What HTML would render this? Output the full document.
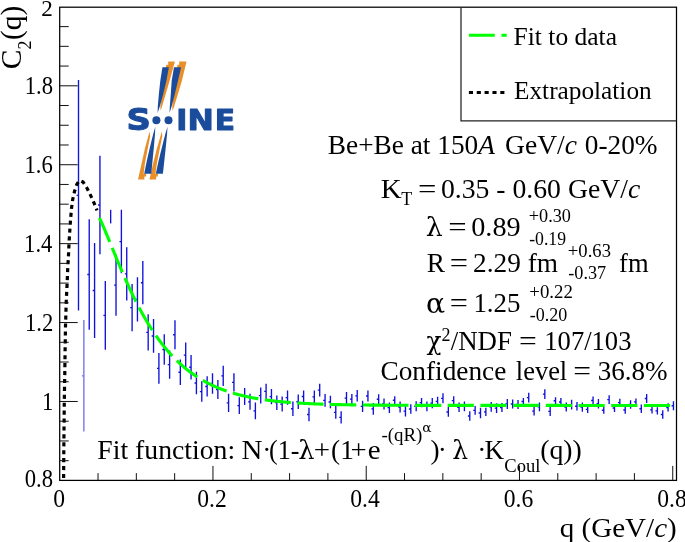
<!DOCTYPE html>
<html lang="en"><head><meta charset="utf-8"><title>C2(q) fit - NA61/SHINE Be+Be at 150A GeV/c</title>
<style>html,body{margin:0;padding:0;background:#fff;}body{width:685px;height:542px;overflow:hidden;}svg{display:block;}text{font-family:"Liberation Serif","DejaVu Serif",serif;fill:#000;}.g{font-family:"DejaVu Serif","Liberation Serif",serif}.t{font-size:27.3px}.s{font-size:18px}.a{font-size:23.6px}.i{font-style:italic}.logo{font-family:"DejaVu Sans","Liberation Sans",sans-serif;font-weight:bold;font-size:28.8px;fill:#1b4c9c}</style></head><body>
<svg width="685" height="542" viewBox="0 0 685 542">
<rect width="685" height="542" fill="#fff"/>
<g stroke="#1111dd" stroke-width="1.35" fill="none">
<path d="M78.50 80.00 V310.60 M78.50 195.30 h-1.9"/>
<path d="M83.86 320.00 V431.60 M83.86 375.80 h-1.9" stroke-opacity="0.6"/>
<path d="M89.22 219.20 V329.80 M89.22 274.50 h-1.9"/>
<path d="M94.58 242.90 V338.00 M94.58 290.45 h-1.9"/>
<path d="M99.94 155.70 V254.30 M99.94 205.00 h-1.9"/>
<path d="M105.30 281.00 V349.70 M105.30 315.35 h-1.9"/>
<path d="M110.66 209.80 V223.40"/>
<path d="M116.02 254.60 V315.70 M116.02 285.15 h-1.9"/>
<path d="M121.38 209.80 V273.30 M121.38 241.55 h-1.9"/>
<path d="M126.74 247.30 V300.40 M126.74 273.85 h-1.9"/>
<path d="M132.10 283.90 V331.30 M132.10 307.60 h-1.9"/>
<path d="M137.46 277.20 V321.50 M137.46 299.35 h-1.9"/>
<path d="M142.82 261.10 V304.30 M142.82 282.70 h-1.9"/>
<path d="M148.18 314.30 V350.50 M148.18 332.40 h-1.9"/>
<path d="M153.54 319.10 V352.80 M153.54 335.95 h-1.9"/>
<path d="M158.90 352.90 V383.70 M158.90 368.30 h-1.9"/>
<path d="M164.26 334.30 V364.70 M164.26 349.50 h-1.9"/>
<path d="M169.62 350.40 V378.70 M169.62 364.55 h-1.9"/>
<path d="M174.98 320.20 V349.20 M174.98 334.70 h-1.9"/>
<path d="M180.34 359.50 V385.00 M180.34 372.25 h-1.9"/>
<path d="M185.70 342.50 V367.60 M185.70 355.05 h-1.9"/>
<path d="M191.06 355.00 V379.40 M191.06 367.20 h-1.9"/>
<path d="M196.42 371.70 V394.20 M196.42 382.95 h-1.9"/>
<path d="M201.78 381.30 V401.80 M201.78 391.55 h-1.9"/>
<path d="M207.14 376.30 V396.60 M207.14 386.45 h-1.9"/>
<path d="M212.50 373.20 V393.80 M212.50 383.50 h-1.9"/>
<path d="M217.86 380.00 V399.00 M217.86 389.50 h-1.9"/>
<path d="M223.22 365.80 V385.90 M223.22 375.85 h-1.9"/>
<path d="M228.58 393.80 V411.90 M228.58 402.85 h-1.9"/>
<path d="M233.94 373.20 V391.60 M233.94 382.40 h-1.9"/>
<path d="M239.30 397.20 V414.10 M239.30 405.65 h-1.9"/>
<path d="M244.66 387.90 V404.90 M244.66 396.40 h-1.9"/>
<path d="M250.02 393.80 V409.80 M250.02 401.80 h-1.9"/>
<path d="M255.38 402.60 V419.20 M255.38 410.90 h-1.9"/>
<path d="M260.74 387.50 V403.60 M260.74 395.55 h-1.9"/>
<path d="M266.10 383.70 V398.90 M266.10 391.30 h-1.9"/>
<path d="M271.46 388.90 V404.20 M271.46 396.55 h-1.9"/>
<path d="M276.82 395.40 V409.90 M276.82 402.65 h-1.9"/>
<path d="M282.18 396.60 V411.50 M282.18 404.05 h-1.9"/>
<path d="M287.54 390.50 V404.70 M287.54 397.60 h-1.9"/>
<path d="M292.90 401.50 V415.90 M292.90 408.70 h-1.9"/>
<path d="M298.26 394.50 V408.90 M298.26 401.70 h-1.9"/>
<path d="M303.62 390.50 V402.40 M303.62 396.45 h-1.9"/>
<path d="M308.98 407.70 V421.30 M308.98 414.50 h-1.9"/>
<path d="M314.34 390.50 V403.30 M314.34 396.90 h-1.9"/>
<path d="M319.70 383.70 V396.60 M319.70 390.15 h-1.9"/>
<path d="M325.06 394.00 V406.80 M325.06 400.40 h-1.9"/>
<path d="M330.42 395.80 V408.20 M330.42 402.00 h-1.9"/>
<path d="M335.78 405.90 V418.70 M335.78 412.30 h-1.9"/>
<path d="M341.14 411.20 V423.40 M341.14 417.30 h-1.9"/>
<path d="M346.50 391.90 V404.20 M346.50 398.05 h-1.9"/>
<path d="M351.86 394.00 V404.20 M351.86 399.10 h-1.9"/>
<path d="M357.22 390.10 V401.50 M357.22 395.80 h-1.9"/>
<path d="M362.58 400.70 V412.00 M362.58 406.35 h-1.9"/>
<path d="M367.94 390.40 V401.50 M367.94 395.95 h-1.9"/>
<path d="M373.30 403.00 V414.70 M373.30 408.85 h-1.9"/>
<path d="M378.66 394.20 V404.20 M378.66 399.20 h-1.9"/>
<path d="M384.02 398.40 V409.40 M384.02 403.90 h-1.9"/>
<path d="M389.38 402.40 V412.90 M389.38 407.65 h-1.9"/>
<path d="M394.74 396.30 V404.20 M394.74 400.25 h-1.9"/>
<path d="M400.10 401.50 V412.40 M400.10 406.95 h-1.9"/>
<path d="M405.46 405.90 V416.40 M405.46 411.15 h-1.9"/>
<path d="M410.82 404.20 V413.80 M410.82 409.00 h-1.9"/>
<path d="M416.18 401.20 V411.20 M416.18 406.20 h-1.9"/>
<path d="M421.54 398.00 V407.30 M421.54 402.65 h-1.9"/>
<path d="M426.90 401.50 V411.20 M426.90 406.35 h-1.9"/>
<path d="M432.26 398.00 V408.20 M432.26 403.10 h-1.9"/>
<path d="M437.62 396.80 V405.90 M437.62 401.35 h-1.9"/>
<path d="M442.98 393.30 V403.30 M442.98 398.30 h-1.9"/>
<path d="M448.34 407.10 V416.80 M448.34 411.95 h-1.9"/>
<path d="M453.70 396.30 V405.00 M453.70 400.65 h-1.9"/>
<path d="M459.06 402.40 V412.00 M459.06 407.20 h-1.9"/>
<path d="M464.42 401.50 V411.20 M464.42 406.35 h-1.9"/>
<path d="M469.78 411.20 V420.80 M469.78 416.00 h-1.9"/>
<path d="M475.14 405.90 V414.70 M475.14 410.30 h-1.9"/>
<path d="M480.50 407.70 V418.20 M480.50 412.95 h-1.9"/>
<path d="M485.86 407.70 V415.90 M485.86 411.80 h-1.9"/>
<path d="M491.22 402.10 V411.70 M491.22 406.90 h-1.9"/>
<path d="M496.58 403.30 V412.90 M496.58 408.10 h-1.9"/>
<path d="M501.94 402.90 V412.00 M501.94 407.45 h-1.9"/>
<path d="M507.30 398.90 V408.90 M507.30 403.90 h-1.9"/>
<path d="M512.66 399.40 V408.50 M512.66 403.95 h-1.9"/>
<path d="M518.02 400.10 V408.90 M518.02 404.50 h-1.9"/>
<path d="M523.38 398.00 V405.00 M523.38 401.50 h-1.9"/>
<path d="M528.74 392.80 V402.40 M528.74 397.60 h-1.9"/>
<path d="M534.10 406.80 V415.50 M534.10 411.15 h-1.9"/>
<path d="M539.46 402.40 V411.20 M539.46 406.80 h-1.9"/>
<path d="M544.82 389.30 V398.90 M544.82 394.10 h-1.9"/>
<path d="M550.18 406.80 V415.90 M550.18 411.35 h-1.9"/>
<path d="M555.54 397.20 V404.20 M555.54 400.70 h-1.9"/>
<path d="M560.90 398.00 V405.90 M560.90 401.95 h-1.9"/>
<path d="M566.26 402.40 V411.50 M566.26 406.95 h-1.9"/>
<path d="M571.62 399.80 V409.40 M571.62 404.60 h-1.9"/>
<path d="M576.98 401.90 V410.60 M576.98 406.25 h-1.9"/>
<path d="M582.34 402.40 V411.70 M582.34 407.05 h-1.9"/>
<path d="M587.70 405.90 V412.90 M587.70 409.40 h-1.9"/>
<path d="M593.06 396.40 V404.50 M593.06 400.45 h-1.9"/>
<path d="M598.42 399.00 V408.50 M598.42 403.75 h-1.9"/>
<path d="M603.78 406.80 V413.70 M603.78 410.25 h-1.9"/>
<path d="M609.14 395.20 V404.00 M609.14 399.60 h-1.9"/>
<path d="M614.50 404.00 V412.00 M614.50 408.00 h-1.9"/>
<path d="M619.86 398.80 V406.30 M619.86 402.55 h-1.9"/>
<path d="M625.22 406.30 V413.70 M625.22 410.00 h-1.9"/>
<path d="M630.58 400.20 V408.80 M630.58 404.50 h-1.9"/>
<path d="M635.94 398.40 V405.40 M635.94 401.90 h-1.9"/>
<path d="M641.30 404.40 V413.00 M641.30 408.70 h-1.9"/>
<path d="M646.66 393.90 V403.00 M646.66 398.45 h-1.9"/>
<path d="M652.02 406.30 V413.40 M652.02 409.85 h-1.9"/>
<path d="M657.38 407.20 V414.40 M657.38 410.80 h-1.9"/>
<path d="M662.74 410.20 V418.80 M662.74 414.50 h-1.9"/>
<path d="M668.10 403.30 V411.60 M668.10 407.45 h-1.9"/>
<path d="M673.46 401.20 V410.20 M673.46 405.70 h-1.9"/>
</g>
<path d="M63.60 480.40 L63.80 450.00 L64.10 420.00 L64.30 400.00 L64.80 372.00 L65.10 350.00 L65.50 326.00 L65.80 317.00 L66.20 302.00 L67.00 286.00 L67.70 269.50 L68.50 255.00 L69.20 240.00 L69.80 230.60 L70.50 220.20 L71.50 208.40 L72.70 199.50 L74.50 191.40 L76.90 184.20 L79.00 181.20 L80.30 180.70 L83.10 182.10 L87.20 188.50 L91.20 196.60 L94.10 203.20 L97.00 210.40" fill="none" stroke="#000" stroke-width="3.2" stroke-dasharray="4.1 3.82" stroke-dashoffset="5.57"/>
<path id="g1" d="M99.40 217.86 L99.90 218.93 L100.40 220.01 L100.90 221.10 L101.40 222.21 L101.90 223.32 L102.40 224.45 L102.90 225.59 L103.40 226.74 L103.90 227.90 L104.40 229.07 L104.90 230.24 L105.40 231.42 L105.90 232.61 L106.40 233.80 L106.90 235.00 L107.40 236.20 L107.90 237.41 L108.40 238.62 L108.90 239.83 L109.40 241.05 L109.90 242.26 L110.40 243.48 L110.90 244.70 L111.40 245.92 L111.90 247.14 L112.40 248.36 L112.90 249.58 L113.40 250.80 L113.90 252.02 L114.40 253.24 L114.90 254.45 L115.40 255.66 L115.90 256.87 L116.40 258.08 L116.90 259.29 L117.40 260.49 L117.90 261.69 L118.40 262.89 L118.90 264.08 L119.40 265.27 L119.90 266.45 L120.40 267.63 L120.90 268.80 L121.40 269.97 L121.90 271.14 L122.40 272.30 L122.90 273.46 L123.40 274.61 L123.90 275.75 L124.40 276.89 L124.90 278.03 L125.40 279.16 L125.90 280.28 L126.40 281.40 L126.90 282.51 L127.40 283.61 L127.90 284.71 L128.40 285.80 L128.90 286.89 L129.40 287.97 L129.90 289.04 L130.40 290.11 L130.90 291.17 L131.40 292.23 L131.90 293.27 L132.40 294.31 L132.90 295.35 L133.40 296.38 L133.90 297.40 L134.40 298.41 L134.90 299.42 L135.40 300.42 L135.90 301.41 L136.40 302.40 L136.90 303.38 L137.40 304.35 L137.90 305.32 L138.40 306.27 L138.90 307.23 L139.40 308.17 L139.90 309.11 L140.40 310.04 L140.90 310.96 L141.40 311.88 L141.90 312.79 L142.40 313.70 L142.90 314.59 L143.40 315.48 L143.90 316.36 L144.40 317.24 L144.90 318.11 L145.40 318.97 L145.90 319.83 L146.40 320.67 L146.90 321.52 L147.40 322.35 L147.90 323.18 L148.40 324.00 L148.90 324.81 L149.40 325.62 L149.90 326.42 L150.40 327.22 L150.90 328.01 L151.40 328.79 L151.90 329.56 L152.40 330.33 L152.90 331.09 L153.40 331.85 L153.90 332.60 L154.40 333.34 L154.90 334.07 L155.40 334.80 L155.90 335.53 L156.40 336.24 L156.90 336.96 L157.40 337.66 L157.90 338.36 L158.40 339.05 L158.90 339.74 L159.40 340.42 L159.90 341.09 L160.40 341.76 L160.90 342.42 L161.40 343.08 L161.90 343.73 L162.40 344.37 L162.90 345.01 L163.40 345.64 L163.90 346.27 L164.40 346.89 L164.90 347.50 L165.40 348.11 L165.90 348.72 L166.40 349.32 L166.90 349.91 L167.40 350.50 L167.90 351.08 L168.40 351.66 L168.90 352.23 L169.40 352.79 L169.90 353.35 L170.40 353.91 L170.90 354.46 L171.40 355.00 L171.90 355.54 L172.40 356.08 L172.90 356.61 L173.40 357.13 L173.90 357.65 L174.40 358.16 L174.90 358.67 L175.40 359.18 L175.90 359.68 L176.40 360.17 L176.90 360.66 L177.40 361.15 L177.90 361.63 L178.40 362.10 L178.90 362.58 L179.40 363.04 L179.90 363.50 L180.40 363.96 L180.90 364.41 L181.40 364.86 L181.90 365.31 L182.40 365.75 L182.90 366.18 L183.40 366.61 L183.90 367.04 L184.40 367.46 L184.90 367.88 L185.40 368.29 L185.90 368.70 L186.40 369.11 L186.90 369.51 L187.40 369.91 L187.90 370.30 L188.40 370.69 L188.90 371.08 L189.40 371.46 L189.90 371.84 L190.40 372.21 L190.90 372.58 L191.40 372.95 L191.90 373.31 L192.40 373.67 L192.90 374.03 L193.40 374.38 L193.90 374.73 L194.40 375.07 L194.90 375.41 L195.40 375.75 L195.90 376.09 L196.40 376.42 L196.90 376.74 L197.40 377.07 L197.90 377.39 L198.40 377.71 L198.90 378.02 L199.40 378.33 L199.90 378.64 L200.40 378.94 L200.90 379.24 L201.40 379.54 L201.90 379.84 L202.40 380.13 L202.90 380.42 L203.40 380.70 L203.90 380.98 L204.40 381.26 L204.90 381.54 L205.40 381.81 L205.90 382.09 L206.40 382.35 L206.90 382.62 L207.40 382.88 L207.90 383.14 L208.40 383.40 L208.90 383.65 L209.40 383.90 L209.90 384.15 L210.40 384.40 L210.90 384.64 L211.40 384.88 L211.90 385.12 L212.40 385.35 L212.90 385.59 L213.40 385.82 L213.90 386.04 L214.40 386.27 L214.90 386.49 L215.40 386.71 L215.90 386.93 L216.40 387.15 L216.90 387.36 L217.40 387.57 L217.90 387.78 L218.40 387.99 L218.90 388.19 L219.40 388.39 L219.90 388.59 L220.40 388.79 L220.90 388.99 L221.40 389.18 L221.90 389.37 L222.40 389.56 L222.90 389.75 L223.40 389.93 L223.90 390.12 L224.40 390.30 L224.90 390.48 L225.40 390.65 L225.90 390.83 L226.40 391.00 L226.90 391.17 L227.40 391.34 L227.90 391.51 L228.40 391.67 L228.90 391.84 L229.40 392.00 L229.90 392.16 L230.40 392.32 L230.90 392.47 L231.40 392.63 L231.90 392.78 L232.40 392.93 L232.90 393.08 L233.40 393.23 L233.90 393.38 L234.40 393.52 L234.90 393.66 L235.40 393.80 L235.90 393.94 L236.40 394.08 L236.90 394.22 L237.40 394.35 L237.90 394.49 L238.40 394.62 L238.90 394.75 L239.40 394.88 L239.90 395.01 L240.40 395.13 L240.90 395.26 L241.40 395.38 L241.90 395.50 L242.40 395.62 L242.90 395.74 L243.40 395.86 L243.90 395.97 L244.40 396.09 L244.90 396.20 L245.40 396.32 L245.90 396.43 L246.40 396.54 L246.90 396.64 L247.40 396.75 L247.90 396.86 L248.40 396.96 L248.90 397.07 L249.40 397.17 L249.90 397.27 L250.40 397.37 L250.90 397.47 L251.40 397.57 L251.90 397.66 L252.40 397.76 L252.90 397.85 L253.40 397.95 L253.90 398.04 L254.40 398.13 L254.90 398.22 L255.40 398.31 L255.90 398.40 L256.40 398.48 L256.90 398.57 L257.40 398.65 L257.90 398.74 L258.40 398.82 L258.90 398.90 L259.40 398.98 L259.90 399.06 L260.40 399.14 L260.90 399.22 L261.40 399.30 L261.90 399.37 L262.40 399.45 L262.90 399.52 L263.40 399.60 L263.90 399.67 L264.40 399.74 L264.90 399.81 L265.40 399.88 L265.90 399.95 L266.40 400.02 L266.90 400.09 L267.40 400.15 L267.90 400.22 L268.40 400.29 L268.90 400.35 L269.40 400.41 L269.90 400.48 L270.40 400.54 L270.90 400.60 L271.40 400.66 L271.90 400.72 L272.40 400.78 L272.90 400.84 L273.40 400.90 L273.90 400.95 L274.40 401.01 L274.90 401.07 L275.40 401.12 L275.90 401.18 L276.40 401.23 L276.90 401.28 L277.40 401.34 L277.90 401.39 L278.40 401.44 L278.90 401.49 L279.40 401.54 L279.90 401.59 L280.40 401.64 L280.90 401.69 L281.40 401.73 L281.90 401.78 L282.40 401.83 L282.90 401.87 L283.40 401.92 L283.90 401.96 L284.40 402.01 L284.90 402.05 L285.40 402.09 L285.90 402.14 L286.40 402.18 L286.90 402.22 L287.40 402.26 L287.90 402.30 L288.40 402.34 L288.90 402.38 L289.40 402.42 L289.90 402.46 L290.40 402.50 L290.90 402.53 L291.40 402.57 L291.90 402.61 L292.40 402.64 L292.90 402.68 L293.40 402.72 L293.90 402.75 L294.40 402.79 L294.90 402.82 L295.40 402.85 L295.90 402.89 L296.40 402.92 L296.90 402.95 L297.40 402.98 L297.90 403.02 L298.40 403.05 L298.90 403.08 L299.40 403.11 L299.90 403.14 L300.40 403.17 L300.90 403.20 L301.40 403.23 L301.90 403.25 L302.40 403.28 L302.90 403.31 L303.40 403.34 L303.90 403.37 L304.40 403.39 L304.90 403.42 L305.40 403.45 L305.90 403.47 L306.40 403.50 L306.90 403.52 L307.40 403.55 L307.90 403.57 L308.40 403.60 L308.90 403.62 L309.40 403.64 L309.90 403.67 L310.40 403.69 L310.90 403.71 L311.40 403.74 L311.90 403.76 L312.40 403.78 L312.90 403.80 L313.40 403.82 L313.90 403.84 L314.40 403.86 L314.90 403.88 L315.40 403.91 L315.90 403.93 L316.40 403.95 L316.90 403.96 L317.40 403.98 L317.90 404.00 L318.40 404.02 L318.90 404.04 L319.40 404.06 L319.90 404.08 L320.40 404.09 L320.90 404.11 L321.40 404.13 L321.90 404.15 L322.40 404.16 L322.90 404.18 L323.40 404.20 L323.90 404.21 L324.40 404.23 L324.90 404.25 L325.40 404.26 L325.90 404.28 L326.40 404.29 L326.90 404.31 L327.40 404.32 L327.90 404.34 L328.40 404.35 L328.90 404.37 L329.40 404.38 L329.90 404.39 L330.40 404.41 L330.90 404.42 L331.40 404.43 L331.90 404.45 L332.40 404.46 L332.90 404.47 L333.40 404.49 L333.90 404.50 L334.40 404.51 L334.90 404.52 L335.40 404.54 L335.90 404.55 L336.40 404.56 L336.90 404.57 L337.40 404.58 L337.90 404.59 L338.40 404.61 L338.90 404.62 L339.40 404.63 L339.90 404.64 L340.40 404.65 L340.90 404.66 L341.40 404.67 L341.90 404.68 L342.40 404.69 L342.90 404.70 L343.40 404.71 L343.90 404.72 L344.40 404.73 L344.90 404.74 L345.40 404.75 L345.90 404.76 L346.40 404.77 L346.90 404.78 L347.40 404.78 L347.90 404.79 L348.40 404.80 L348.90 404.81 L349.40 404.82 L349.90 404.83 L350.40 404.83 L350.90 404.84 L351.40 404.85 L351.90 404.86 L352.40 404.87 L352.90 404.87 L353.40 404.88 L353.90 404.89 L354.40 404.90 L354.90 404.90 L355.40 404.91 L355.90 404.92 L356.40 404.92 L356.90 404.93 L357.40 404.94 L357.90 404.95 L358.40 404.95 L358.90 404.96 L359.40 404.96 L359.90 404.97 L360.40 404.98 L360.90 404.98 L361.40 404.99 L361.90 405.00 L362.40 405.00 L362.90 405.01 L363.40 405.01 L363.90 405.02 L364.40 405.02 L364.90 405.03 L365.40 405.04 L365.90 405.04 L366.40 405.05 L366.90 405.05 L367.40 405.06 L367.90 405.06 L368.40 405.07 L368.90 405.07 L369.40 405.08 L369.90 405.08 L370.40 405.09 L370.90 405.09 L371.40 405.10 L371.90 405.10 L372.40 405.10 L372.90 405.11 L373.40 405.11 L373.90 405.12 L374.40 405.12 L374.90 405.13 L375.40 405.13 L375.90 405.13 L376.40 405.14 L376.90 405.14 L377.40 405.15 L377.90 405.15 L378.40 405.15 L378.90 405.16 L379.40 405.16 L379.90 405.17 L380.40 405.17 L380.90 405.17 L381.40 405.18 L381.90 405.18 L382.40 405.18 L382.90 405.19 L383.40 405.19 L383.90 405.19 L384.40 405.20 L384.90 405.20 L385.40 405.20 L385.90 405.21 L386.40 405.21 L386.90 405.21 L387.40 405.21 L387.90 405.22 L388.00 405.22" fill="none" stroke="#00ff00" stroke-width="3.1" stroke-dasharray="26.2 6.5" stroke-dashoffset="0"/>
<path id="g2" d="M382.30 405.18 L384.30 405.20 L386.30 405.21 L388.30 405.22 L390.30 405.23 L392.30 405.24 L394.30 405.25 L396.30 405.26 L398.30 405.27 L400.30 405.28 L402.30 405.29 L404.30 405.30 L406.30 405.30 L408.30 405.31 L410.30 405.32 L412.30 405.32 L414.30 405.33 L416.30 405.33 L418.30 405.34 L420.30 405.34 L422.30 405.35 L424.30 405.35 L426.30 405.36 L428.30 405.36 L430.30 405.36 L432.30 405.37 L434.30 405.37 L436.30 405.37 L438.30 405.38 L440.30 405.38 L442.30 405.38 L444.30 405.39 L446.30 405.39 L448.30 405.39 L450.30 405.39 L452.30 405.39 L454.30 405.40 L456.30 405.40 L458.30 405.40 L460.30 405.40 L462.30 405.40 L464.30 405.40 L466.30 405.40 L468.30 405.41 L470.30 405.41 L472.30 405.41 L474.30 405.41 L476.30 405.41 L478.30 405.41 L480.30 405.41 L482.30 405.41 L484.30 405.41 L486.30 405.41 L488.30 405.41 L490.30 405.42 L492.30 405.42 L494.30 405.42 L496.30 405.42 L498.30 405.42 L500.30 405.42 L502.30 405.42 L504.30 405.42 L506.30 405.42 L508.30 405.42 L510.30 405.42 L512.30 405.42 L514.30 405.42 L516.30 405.42 L518.30 405.42 L520.30 405.42 L522.30 405.42 L524.30 405.42 L526.30 405.42 L528.30 405.42 L530.30 405.42 L532.30 405.42 L534.30 405.42 L536.30 405.42 L538.30 405.42 L540.30 405.42 L542.30 405.42 L544.30 405.42 L546.30 405.42 L548.30 405.42 L550.30 405.42 L552.30 405.42 L554.30 405.42 L556.30 405.42 L558.30 405.42 L560.30 405.42 L562.30 405.42 L564.30 405.42 L566.30 405.43 L568.30 405.43 L570.30 405.43 L572.30 405.43 L574.30 405.43 L576.30 405.43 L578.30 405.43 L580.30 405.43 L582.30 405.43 L584.30 405.43 L586.30 405.43 L588.30 405.43 L590.30 405.43 L592.30 405.43 L594.30 405.43 L596.30 405.43 L598.30 405.43 L600.30 405.43 L602.30 405.43 L604.30 405.43 L606.30 405.43 L608.30 405.43 L610.30 405.43 L612.30 405.43 L614.30 405.43 L616.30 405.43 L618.30 405.43 L620.30 405.43 L622.30 405.43 L624.30 405.43 L626.30 405.43 L628.30 405.43 L630.30 405.43 L632.30 405.43 L634.30 405.43 L636.30 405.43 L638.30 405.43 L640.30 405.43 L642.30 405.43 L644.30 405.43 L646.30 405.43 L648.30 405.43 L650.30 405.43 L652.30 405.43 L654.30 405.43 L656.30 405.43 L658.30 405.43 L660.30 405.43 L662.30 405.43 L664.30 405.43 L666.30 405.43 L668.30 405.43 L670.30 405.43 L670.40 405.43" fill="none" stroke="#00ff00" stroke-width="3.1" stroke-dasharray="26.2 6.5" stroke-dashoffset="0"/>
<g stroke="#000" stroke-width="1.25" fill="none">
<rect x="59.7" y="7.2" width="616.8" height="473.2"/>
<path d="M59.70 460.67 h9 M59.70 440.94 h9 M59.70 421.21 h9 M59.70 401.48 h18 M59.70 381.75 h9 M59.70 362.02 h9 M59.70 342.29 h9 M59.70 322.56 h18 M59.70 302.83 h9 M59.70 283.10 h9 M59.70 263.37 h9 M59.70 243.64 h18 M59.70 223.91 h9 M59.70 204.18 h9 M59.70 184.45 h9 M59.70 164.72 h18 M59.70 144.99 h9 M59.70 125.26 h9 M59.70 105.53 h9 M59.70 85.80 h18 M59.70 66.07 h9 M59.70 46.34 h9 M59.70 26.61 h9 M98.02 480.40 v-7.3 M136.33 480.40 v-7.3 M174.65 480.40 v-7.3 M212.96 480.40 v-14.5 M251.27 480.40 v-7.3 M289.59 480.40 v-7.3 M327.90 480.40 v-7.3 M366.22 480.40 v-14.5 M404.53 480.40 v-7.3 M442.85 480.40 v-7.3 M481.17 480.40 v-7.3 M519.48 480.40 v-14.5 M557.79 480.40 v-7.3 M596.11 480.40 v-7.3 M634.42 480.40 v-7.3 M672.74 480.40 v-14.5" stroke-width="1.0" stroke="#111"/>
<path d="M461.0 7 V120.9 H676.5" stroke="#222"/>
</g>
<path d="M468.9 35.2 H506.7" stroke="#00ff00" stroke-width="3.1" stroke-dasharray="25.9 6.7" fill="none"/>
<path d="M468.9 92.4 H506.8" stroke="#000" stroke-width="3" stroke-dasharray="4.1 3.75" fill="none"/>
<text transform="translate(513.59 44.60) scale(1.008 1)" font-size="25.3">Fit to data</text>
<text x="514.00" y="98.50" font-size="25.3">Extrapolation</text>
<text x="327.87" y="153.90" font-size="27.3">Be+Be at 150<tspan class="i">A</tspan></text>
<text transform="translate(505.09 153.90) scale(1.010 1)" font-size="27.3">GeV/<tspan class="i">c</tspan></text>
<text x="584.79" y="153.90" font-size="27.3">0-20%</text>
<text transform="translate(380.76 197.60) scale(1.060 1)" font-size="27.3">K</text>
<text x="401.35" y="204.90" font-size="18.0">T</text>
<text transform="translate(418.06 197.60) scale(1.196 1)" font-size="27.3">=</text>
<text transform="translate(440.88 197.60) scale(1.016 1)" font-size="27.3">0.35 - 0.60 GeV/<tspan class="i">c</tspan></text>
<text transform="translate(425.78 236.40) scale(0.981 0.981)" font-size="27.3" class="g">λ</text>
<text transform="translate(448.26 236.40) scale(1.196 1)" font-size="27.3">=</text>
<text transform="translate(471.26 236.40) scale(1.034 1)" font-size="27.3">0.89</text>
<text transform="translate(528.79 222.10) scale(1.012 1)" font-size="18.0">+0.30</text>
<text transform="translate(529.13 244.70) scale(0.985 1)" font-size="18.0">-0.19</text>
<text x="426.86" y="271.50" font-size="27.3">R</text>
<text transform="translate(449.77 271.50) scale(1.188 1)" font-size="27.3">=</text>
<text x="473.07" y="271.50" font-size="27.3">2.29 fm</text>
<text transform="translate(567.87 256.80) scale(1.035 1)" font-size="18.0">+0.63</text>
<text transform="translate(568.21 279.20) scale(1.014 1)" font-size="18.0">-0.37</text>
<text transform="translate(619.07 271.50) scale(0.974 1)" font-size="27.3">fm</text>
<text transform="translate(425.93 312.50) scale(1.039 1.005)" font-size="27.3" class="g">α</text>
<text transform="translate(449.68 312.40) scale(1.180 1)" font-size="27.3">=</text>
<text transform="translate(473.38 312.40) scale(0.987 1)" font-size="27.3">1.25</text>
<text transform="translate(529.36 298.30) scale(1.044 1)" font-size="18.0">+0.22</text>
<text x="529.72" y="320.90" font-size="18.0">-0.20</text>
<text transform="translate(426.49 350.16) scale(0.905 0.924)" font-size="27.3" class="g">χ</text>
<text x="441.50" y="341.40" font-size="18.0">2</text>
<text transform="translate(450.70 349.70) scale(0.984 1)" font-size="27.3">/NDF</text>
<text transform="translate(519.01 349.70) scale(1.156 1)" font-size="27.3">=</text>
<text transform="translate(544.31 349.70) scale(0.974 1)" font-size="27.3">107/103</text>
<text x="380.50" y="380.30" font-size="27.3">Confidence</text>
<text transform="translate(515.87 380.30) scale(0.968 1)" font-size="27.3">level</text>
<text transform="translate(573.31 380.30) scale(1.156 1)" font-size="27.3">=</text>
<text transform="translate(597.65 380.30) scale(0.992 1)" font-size="27.3">36.8%</text>
<text transform="translate(97.35 458.60) scale(1.015 1)" font-size="27.3">Fit function:</text>
<text transform="translate(241.55 458.60) scale(1.060 1)" font-size="27.3">N</text>
<text x="262.20" y="458.60" font-size="27.3">·</text>
<text transform="translate(269.03 458.60) scale(0.955 1)" font-size="27.3">(1-</text>
<text transform="translate(298.32 458.60) scale(0.942 0.981)" font-size="27.3" class="g">λ</text>
<text transform="translate(313.85 458.60) scale(1.060 1)" font-size="27.3">+</text>
<text x="331.05" y="458.60" font-size="27.3">(1</text>
<text transform="translate(350.55 458.60) scale(1.053 1)" font-size="27.3">+</text>
<text transform="translate(367.85 458.60) scale(1.060 1)" font-size="27.3">e</text>
<text transform="translate(381.49 441.30) scale(1.050 1)" font-size="18.0">-(qR)</text>
<text transform="translate(422.17 432.40) scale(1.152 1.0)" font-size="12" class="g">α</text>
<text x="430.62" y="458.60" font-size="27.3">)</text>
<text x="437.70" y="458.60" font-size="27.3">·</text>
<text transform="translate(452.35 458.60) scale(0.916 0.981)" font-size="27.3" class="g">λ</text>
<text x="477.20" y="458.60" font-size="27.3">·</text>
<text transform="translate(484.57 458.60) scale(0.994 1)" font-size="27.3">K</text>
<text transform="translate(504.31 471.80) scale(1.033 1)" font-size="18.0">Coul</text>
<text transform="translate(540.13 458.60) scale(1.020 1)" font-size="27.3">(q))</text>
<text transform="translate(559.71 536.50) scale(1.028 1)" font-size="28.3">q (GeV/<tspan class="i">c</tspan>)</text>
<text transform="translate(41.32 15.90) scale(0.980 1.0)" font-size="23.6">2</text>
<text transform="translate(24.66 94.10) scale(0.960 1.07)" font-size="23.6">1.8</text>
<text transform="translate(24.48 173.02) scale(0.960 1.07)" font-size="23.6">1.6</text>
<text transform="translate(24.09 251.94) scale(0.960 1.07)" font-size="23.6">1.4</text>
<text transform="translate(24.98 330.86) scale(0.960 1.07)" font-size="23.6">1.2</text>
<text transform="translate(41.96 409.80) scale(0.960 1.07)" font-size="23.6">1</text>
<text transform="translate(24.66 487.40) scale(0.960 1.07)" font-size="23.6">0.8</text>
<text transform="translate(53.28 506.50) scale(1.000 1.07)" font-size="23.6">0</text>
<text transform="translate(197.27 506.50) scale(1.000 1.07)" font-size="23.6">0.2</text>
<text transform="translate(350.21 506.50) scale(1.000 1.07)" font-size="23.6">0.4</text>
<text transform="translate(503.82 506.50) scale(1.000 1.07)" font-size="23.6">0.6</text>
<text transform="translate(657.31 506.50) scale(1.000 1.07)" font-size="23.6">0.8</text>
<g transform="translate(21.1 69.3) rotate(-90)"><text font-size="29.5" x="0" y="0">C</text><text font-size="18" x="19.8" y="9.5">2</text><text font-size="29.5" x="29.2" y="0">(q)</text></g>
<g>
<polygon points="166.3,64.7 168.2,64.7 168.2,61.5 174.9,61.5 169.6,80.8 165.8,93.7 162.0,106.6 160.7,110.8 160.3,106.6" fill="#e98f2a"/>
<polygon points="177.4,64.7 179.2,64.7 179.2,61.5 186.5,61.5 181.9,80.8 178.0,93.7 174.1,106.6 172.7,110.8 172.2,106.6" fill="#e98f2a"/>
<polygon points="162.4,67.3 168.9,67.3 166.4,80.8 163.3,93.7 159.8,106.6 157.6,113.0 157.8,106.6 158.9,93.7 160.3,80.8" fill="#1b4c9c"/>
<polygon points="174.0,67.3 181.1,67.3 178.0,80.8 174.9,93.7 171.6,106.6 169.5,113.0 169.8,106.6 170.8,93.7 171.7,80.8" fill="#1b4c9c"/>
<polygon points="149.6,131.5 150.2,136 147.5,150 145,163 143.6,173.7 146.2,173.7 146.2,176.5 144.4,176.5 144.4,179.5 138,179.5 141.5,164 145.0,148" fill="#e98f2a"/>
<polygon points="161.8,131.5 162.3,136 159.5,150 157,163 155.4,173.7 157.9,173.7 157.9,176.5 156.2,176.5 156.2,179.5 149.4,179.5 153.0,164 157.0,148" fill="#e98f2a"/>
<polygon points="155.3,126.8 155.0,134 153.9,147 152.6,160 151.3,173.7 144.2,173.7 147.0,160 150.0,147 153.2,134" fill="#1b4c9c"/>
<polygon points="167.5,126.8 167.1,134 165.8,147 164.4,160 162.9,173.7 155.8,173.7 158.8,160 162.0,147 165.3,134" fill="#1b4c9c"/>
<circle cx="156.4" cy="120.2" r="4.0" fill="#1b4c9c"/><circle cx="168.5" cy="120.2" r="4.0" fill="#1b4c9c"/>
<text class="logo" transform="translate(126.56 130.00) scale(1.173 1.07)" font-size="28" stroke="#1b4c9c" stroke-width="1" stroke-linejoin="round">S</text>
<text class="logo" transform="translate(176.22 129.60) scale(1.04 1)" font-size="28" stroke="#1b4c9c" stroke-width="1" stroke-linejoin="round">I</text>
<text class="logo" transform="translate(187.59 129.60) scale(1.094 1)" font-size="28" stroke="#1b4c9c" stroke-width="1" stroke-linejoin="round">N</text>
<text class="logo" transform="translate(214.64 129.60) scale(1.035 1)" font-size="28" stroke="#1b4c9c" stroke-width="1" stroke-linejoin="round">E</text>
</g>
</svg></body></html>
